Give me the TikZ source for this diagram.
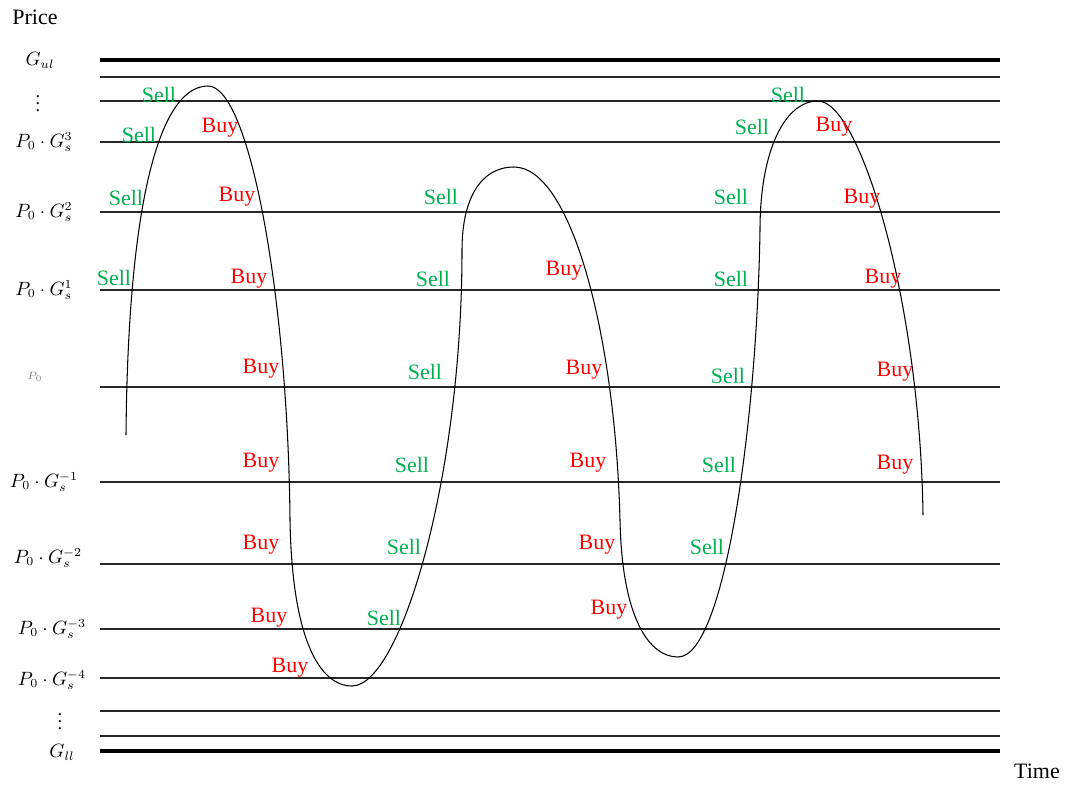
\documentclass[tikz,border=0pt]{standalone}
\usepackage{fontspec}
\setmainfont{Liberation Serif}
\definecolor{sellgreen}{RGB}{0,176,80}

\begin{document}
\begin{tikzpicture}[x=0.02cm,y=-0.02cm,
	sell/.style={text=sellgreen,font=\fontsize{12.5}{14}\selectfont},
	buy/.style={text=red,font=\fontsize{12.5}{14}\selectfont},
	axis/.style={font=\fontsize{12.5}{14}\selectfont},
	lvl/.style={font=\fontsize{10.5}{12}\selectfont,inner sep=1pt},
	level/.style={line width=.6pt,black!85},
	bound/.style={line width=2.4pt}]
	\useasboundingbox (0,0) rectangle (1065,785);
	% price levels
	\draw[bound] (100,60) coordinate (ul) -- (1000,60);
	\draw[bound] (100,751) coordinate (ll) -- (1000,751);
	\foreach \y in {77,101,142,212,290,387,482,564,629,678,711,736} \draw[level] (100,\y) -- (1000,\y);
	% axis texts
	\node[axis] (price) at (35,17) {Price};
	\node[axis] (time) at (1037,771) {Time};
	\node[lvl] (gul) at (40,60) {$G_{ul}$};
	\node[lvl] (gll) at (62,752) {$G_{ll}$};
	\node[lvl] (dotsa) at (38,98) {$\vdots$};
	\node[lvl] (dotsb) at (60,716) {$\vdots$};
	\node[font=\fontsize{6}{7}\selectfont,black!50] (pzero) at (35,377) {$P_{0}$};
	\foreach \y/\e/\x in {142/3/44,212/2/44,290/1/44,482/-1/44,558/-2/48,629/-3/52,680/-4/52}
		\node[lvl] (g\e) at (\x,\y) {$P_0\cdot G_s^{\e}$};
	% price path
	\draw[line width=.6pt] (126,435) .. controls (128,200) and (160,86) .. (208,86)
		.. controls (250,86) and (288,300) .. (290,520)
		.. controls (292,640) and (320,686) .. (352,686)
		.. controls (400,686) and (462,480) .. (462,250)
		.. controls (462,200) and (480,167) .. (514,167)
		.. controls (570,167) and (615,330) .. (620,520)
		.. controls (622,620) and (650,657) .. (678,657)
		.. controls (725,657) and (757,420) .. (760,230)
		.. controls (760,150) and (785,101) .. (818,101)
		.. controls (860,101) and (920,300) .. (923,515);
	% orders
	\foreach \x/\y [count=\i] in {159/95,139/135,126/198,114/278,441/197,433/279,425/372,412/465,404/547,384/618,788/95,752/127,731/197,731/279,728/376,719/465,707/547}
		\node[sell] (s\i) at (\x,\y) {Sell};
	\foreach \x/\y [count=\i] in {220/128,237/197,249/279,261/369,261/463,261/545,269/618,290/668,564/271,584/370,588/463,597/545,609/610,834/127,862/199,883/279,895/372,895/465}
		\node[buy] (b\i) at (\x,\y) {Buy};
\end{tikzpicture}
\end{document}
